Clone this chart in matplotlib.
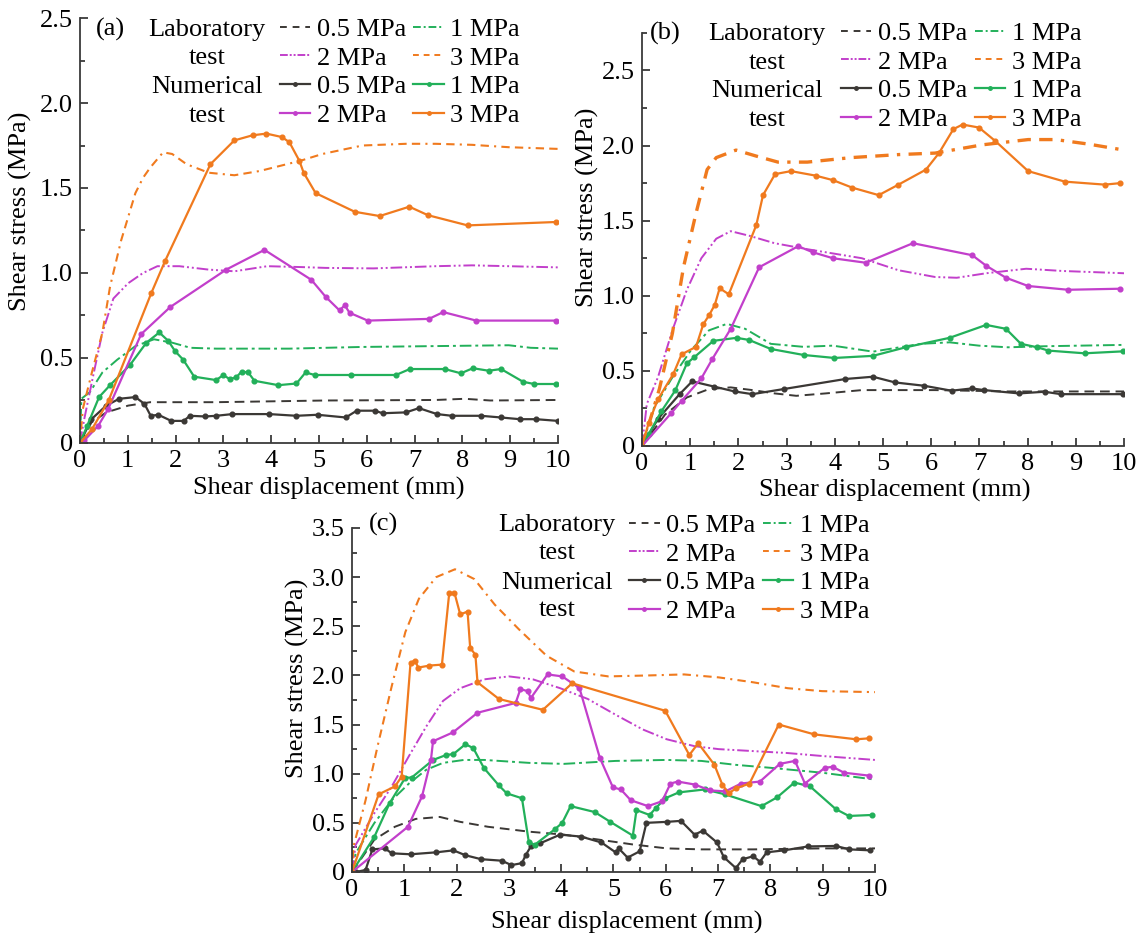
import numpy as np
import matplotlib.pyplot as plt
from matplotlib.ticker import MultipleLocator, FuncFormatter
from matplotlib.lines import Line2D

plt.rcParams['font.family'] = ['Liberation Serif', 'DejaVu Serif']
plt.rcParams['font.size'] = 19

BLACK = '#3b3835'
GREEN = '#22b05a'
MAGENTA = '#c23fcb'
ORANGE = '#f07a1e'

# ---------------- panel (a) ----------------
a_lab05_x = [0, 0.24, 0.55, 1.01, 1.47, 2.85, 5.14, 7.44, 8.05, 8.58, 10.0]
a_lab05_y = [0, 0.12, 0.18, 0.22, 0.24, 0.24, 0.25, 0.253, 0.26, 0.25, 0.253]
a_lab1_x = [0, 0.03, 0.21, 0.47, 0.78, 1.16, 1.55, 1.93, 2.31, 2.85, 4.38, 5.91, 7.44, 8.97, 9.43, 10.0]
a_lab1_y = [0, 0.26, 0.30, 0.415, 0.49, 0.57, 0.61, 0.59, 0.56, 0.555, 0.555, 0.565, 0.57, 0.575, 0.56, 0.555]
a_lab2_x = [0, 0.09, 0.28, 0.47, 0.70, 1.01, 1.32, 1.62, 2.08, 2.69, 3.23, 3.92, 4.61, 5.14, 6.14, 7.44, 8.20, 8.97, 10.0]
a_lab2_y = [0, 0.14, 0.40, 0.65, 0.85, 0.94, 1.00, 1.04, 1.04, 1.02, 1.01, 1.04, 1.035, 1.03, 1.027, 1.04, 1.045, 1.04, 1.033]
a_lab3_x = [0, 0.06, 0.25, 0.47, 0.63, 0.86, 1.16, 1.32, 1.47, 1.74, 1.93, 2.23, 2.69, 3.23, 3.76, 4.61, 5.07, 5.91, 6.82, 7.44, 8.20, 8.97, 10.0]
a_lab3_y = [0, 0.20, 0.415, 0.65, 0.92, 1.19, 1.47, 1.56, 1.62, 1.71, 1.70, 1.64, 1.59, 1.575, 1.60, 1.66, 1.70, 1.75, 1.76, 1.76, 1.754, 1.74, 1.73]

a_num05_x = [0, 0.24, 0.55, 0.82, 1.16, 1.35, 1.48, 1.64, 1.91, 2.17, 2.30, 2.62, 2.85, 3.19, 3.96, 4.53, 4.97, 5.56, 5.79, 6.17, 6.33, 6.82, 7.09, 7.47, 7.78, 8.39, 8.81, 9.20, 9.54, 10.0]
a_num05_y = [0, 0.14, 0.22, 0.26, 0.27, 0.23, 0.16, 0.166, 0.13, 0.13, 0.16, 0.156, 0.16, 0.17, 0.17, 0.16, 0.166, 0.15, 0.19, 0.19, 0.175, 0.18, 0.205, 0.17, 0.16, 0.16, 0.15, 0.14, 0.14, 0.13]
a_num1_x = [0, 0.15, 0.40, 0.63, 1.05, 1.39, 1.66, 1.85, 1.99, 2.16, 2.39, 2.85, 3.0, 3.13, 3.27, 3.38, 3.52, 3.65, 4.15, 4.53, 4.72, 4.91, 5.68, 6.61, 6.90, 7.63, 7.97, 8.22, 8.55, 8.81, 9.27, 9.50, 9.95]
a_num1_y = [0, 0.10, 0.27, 0.34, 0.46, 0.59, 0.65, 0.60, 0.54, 0.49, 0.39, 0.37, 0.40, 0.376, 0.386, 0.42, 0.415, 0.366, 0.34, 0.35, 0.415, 0.40, 0.40, 0.40, 0.435, 0.435, 0.41, 0.44, 0.425, 0.435, 0.36, 0.347, 0.347]
a_num2_x = [0, 0.09, 0.38, 0.59, 1.28, 1.89, 3.06, 3.86, 4.84, 5.14, 5.43, 5.54, 5.64, 6.02, 7.30, 7.60, 8.29, 9.96]
a_num2_y = [0, 0.015, 0.10, 0.20, 0.64, 0.80, 1.02, 1.136, 0.96, 0.86, 0.78, 0.81, 0.766, 0.72, 0.73, 0.77, 0.72, 0.72]
a_num3_x = [0, 0.25, 0.60, 1.49, 1.78, 2.73, 3.23, 3.61, 3.90, 4.22, 4.38, 4.59, 4.68, 4.93, 5.75, 6.27, 6.89, 7.28, 8.11, 9.96]
a_num3_y = [0, 0.08, 0.25, 0.88, 1.07, 1.64, 1.78, 1.81, 1.82, 1.80, 1.77, 1.66, 1.59, 1.47, 1.36, 1.335, 1.39, 1.34, 1.28, 1.30]

# ---------------- panel (b) ----------------
b_lab05_x = [0, 0.48, 0.93, 1.39, 1.84, 2.29, 2.75, 3.20, 3.81, 4.56, 5.32, 6.08, 7.59, 10.0]
b_lab05_y = [0, 0.21, 0.323, 0.379, 0.39, 0.372, 0.35, 0.334, 0.35, 0.372, 0.372, 0.372, 0.363, 0.363]
b_lab1_x = [0, 0.25, 0.63, 1.01, 1.39, 1.76, 2.14, 2.67, 3.35, 3.96, 4.79, 5.78, 6.38, 6.99, 7.59, 8.35, 10.0]
b_lab1_y = [0, 0.256, 0.457, 0.635, 0.77, 0.813, 0.78, 0.68, 0.66, 0.668, 0.628, 0.68, 0.69, 0.668, 0.657, 0.664, 0.673]
b_lab2_x = [0, 0.10, 0.33, 0.63, 0.93, 1.23, 1.54, 1.84, 2.22, 2.75, 3.43, 4.56, 5.32, 6.08, 6.53, 7.14, 7.97, 8.73, 10.0]
b_lab2_y = [0, 0.28, 0.457, 0.77, 1.04, 1.25, 1.38, 1.43, 1.40, 1.35, 1.31, 1.25, 1.17, 1.125, 1.12, 1.15, 1.18, 1.165, 1.15]
b_lab3_x = [0, 0.10, 0.36, 0.63, 0.86, 1.12, 1.35, 1.54, 1.95, 2.37, 2.82, 3.43, 4.34, 5.32, 6.08, 7.06, 8.01, 8.58, 9.26, 10.0]
b_lab3_y = [0, 0.10, 0.38, 0.75, 1.19, 1.55, 1.84, 1.92, 1.97, 1.93, 1.89, 1.89, 1.92, 1.94, 1.95, 2.005, 2.04, 2.04, 2.01, 1.97]

b_num05_x = [0, 0.33, 0.78, 1.04, 1.50, 1.92, 2.29, 2.94, 4.22, 4.79, 5.25, 5.85, 6.42, 6.84, 7.10, 7.82, 8.35, 8.69, 9.98]
b_num05_y = [0, 0.18, 0.345, 0.43, 0.395, 0.363, 0.345, 0.379, 0.446, 0.461, 0.423, 0.401, 0.368, 0.383, 0.372, 0.35, 0.361, 0.345, 0.345]
b_num1_x = [0, 0.14, 0.40, 0.69, 0.93, 1.08, 1.48, 1.96, 2.22, 2.67, 3.35, 3.99, 4.79, 5.47, 6.38, 7.14, 7.55, 7.86, 8.20, 8.43, 9.18, 9.98]
b_num1_y = [0, 0.08, 0.23, 0.37, 0.55, 0.59, 0.70, 0.72, 0.706, 0.646, 0.606, 0.586, 0.60, 0.657, 0.72, 0.806, 0.78, 0.68, 0.657, 0.635, 0.617, 0.63]
b_num2_x = [0, 0.61, 0.82, 1.23, 1.46, 1.84, 2.43, 3.24, 3.54, 3.96, 4.64, 5.62, 6.85, 7.14, 7.55, 8.01, 8.84, 9.92]
b_num2_y = [0, 0.22, 0.30, 0.45, 0.58, 0.78, 1.19, 1.33, 1.29, 1.25, 1.22, 1.35, 1.27, 1.20, 1.12, 1.065, 1.04, 1.047]
b_num3_x = [0, 0.14, 0.33, 0.65, 0.82, 1.12, 1.27, 1.39, 1.51, 1.61, 1.80, 2.37, 2.51, 2.76, 3.09, 3.60, 3.96, 4.36, 4.91, 5.32, 5.89, 6.16, 6.46, 6.65, 6.99, 7.33, 8.01, 8.77, 9.60, 9.92]
b_num3_y = [0, 0.156, 0.31, 0.48, 0.61, 0.66, 0.81, 0.87, 0.94, 1.05, 1.01, 1.47, 1.67, 1.81, 1.83, 1.80, 1.77, 1.72, 1.67, 1.74, 1.84, 1.95, 2.11, 2.14, 2.12, 2.03, 1.83, 1.76, 1.74, 1.75]

# ---------------- panel (c) ----------------
c_lab05_x = [0, 0.43, 0.82, 1.22, 1.68, 2.07, 2.60, 3.39, 4.05, 4.71, 5.37, 6.02, 6.68, 7.67, 8.99, 10.0]
c_lab05_y = [0, 0.33, 0.46, 0.54, 0.56, 0.51, 0.46, 0.41, 0.38, 0.33, 0.28, 0.24, 0.23, 0.23, 0.24, 0.24]
c_lab1_x = [0, 0.07, 0.43, 0.76, 1.09, 1.42, 1.74, 2.14, 2.53, 3.39, 4.05, 5.04, 6.02, 6.68, 7.34, 8.0, 8.99, 10.0]
c_lab1_y = [0, 0.19, 0.50, 0.73, 0.90, 1.04, 1.11, 1.14, 1.14, 1.11, 1.10, 1.13, 1.14, 1.13, 1.09, 1.06, 1.01, 0.94]
c_lab2_x = [0, 0.07, 0.43, 0.76, 1.09, 1.42, 1.74, 2.07, 2.53, 3.0, 3.46, 3.98, 4.51, 5.04, 5.56, 6.02, 6.55, 7.01, 7.67, 8.33, 8.99, 10.0]
c_lab2_y = [0, 0.275, 0.60, 0.87, 1.18, 1.48, 1.74, 1.87, 1.96, 1.99, 1.96, 1.87, 1.76, 1.60, 1.45, 1.35, 1.28, 1.25, 1.23, 1.21, 1.18, 1.14]
c_lab3_x = [0, 0.03, 0.26, 0.49, 0.76, 1.02, 1.28, 1.61, 1.97, 2.34, 2.73, 3.19, 3.72, 4.25, 4.90, 5.69, 6.35, 7.01, 7.67, 8.33, 8.99, 10.0]
c_lab3_y = [0, 0.26, 0.73, 1.28, 1.89, 2.44, 2.78, 3.00, 3.08, 2.98, 2.72, 2.47, 2.20, 2.04, 1.99, 2.00, 2.01, 1.98, 1.93, 1.87, 1.84, 1.83]

c_num05_x = [0, 0.07, 0.26, 0.39, 0.63, 0.76, 1.12, 1.61, 1.94, 2.17, 2.47, 2.86, 3.05, 3.25, 3.32, 3.42, 3.59, 3.98, 4.38, 4.77, 5.04, 5.10, 5.27, 5.50, 5.63, 6.02, 6.29, 6.55, 6.71, 6.98, 7.11, 7.34, 7.47, 7.67, 7.80, 7.93, 8.26, 8.72, 9.25, 9.51, 9.91]
c_num05_y = [0, 0.0, 0.02, 0.23, 0.24, 0.19, 0.18, 0.20, 0.22, 0.17, 0.13, 0.115, 0.07, 0.09, 0.17, 0.26, 0.29, 0.38, 0.36, 0.30, 0.20, 0.24, 0.146, 0.21, 0.50, 0.51, 0.52, 0.38, 0.42, 0.30, 0.15, 0.04, 0.13, 0.16, 0.105, 0.20, 0.22, 0.26, 0.265, 0.23, 0.22]
c_num1_x = [0, 0.43, 0.72, 1.02, 1.14, 1.55, 1.80, 1.94, 2.17, 2.32, 2.52, 2.81, 2.96, 3.25, 3.38, 3.49, 3.88, 4.02, 4.18, 4.64, 4.94, 5.37, 5.44, 5.69, 5.81, 5.99, 6.25, 6.75, 7.13, 7.83, 8.13, 8.46, 8.76, 9.25, 9.50, 9.94]
c_num1_y = [0, 0.36, 0.70, 0.96, 0.96, 1.14, 1.19, 1.20, 1.30, 1.26, 1.06, 0.88, 0.80, 0.75, 0.31, 0.275, 0.435, 0.50, 0.67, 0.61, 0.51, 0.37, 0.63, 0.58, 0.65, 0.75, 0.81, 0.84, 0.79, 0.67, 0.76, 0.91, 0.87, 0.64, 0.57, 0.58]
c_num2_x = [0, 1.07, 1.34, 1.51, 1.55, 1.93, 2.40, 3.13, 3.22, 3.36, 3.42, 3.74, 4.02, 4.35, 4.74, 4.99, 5.14, 5.33, 5.66, 5.93, 6.09, 6.23, 6.55, 6.85, 7.14, 7.44, 7.80, 8.18, 8.47, 8.66, 9.04, 9.19, 9.41, 9.89]
c_num2_y = [0, 0.46, 0.77, 1.14, 1.33, 1.42, 1.62, 1.72, 1.86, 1.84, 1.77, 2.01, 1.99, 1.87, 1.16, 0.86, 0.84, 0.73, 0.67, 0.72, 0.90, 0.92, 0.89, 0.83, 0.82, 0.90, 0.92, 1.10, 1.13, 0.90, 1.06, 1.07, 1.01, 0.98]
c_num3_x = [0, 0.51, 0.82, 0.95, 1.12, 1.20, 1.27, 1.48, 1.72, 1.86, 1.96, 2.07, 2.21, 2.26, 2.36, 2.40, 2.81, 3.65, 4.21, 5.99, 6.45, 6.62, 6.93, 7.08, 7.20, 7.34, 7.60, 8.16, 8.84, 9.64, 9.89]
c_num3_y = [0, 0.79, 0.87, 0.97, 2.13, 2.15, 2.08, 2.10, 2.11, 2.84, 2.84, 2.62, 2.65, 2.28, 2.21, 1.93, 1.76, 1.65, 1.92, 1.64, 1.19, 1.31, 1.09, 0.89, 0.80, 0.85, 0.90, 1.50, 1.40, 1.35, 1.36]

legend_labels = ['0.5 MPa', '2 MPa', '0.5 MPa', '2 MPa', '1 MPa', '3 MPa', '1 MPa', '3 MPa']

lab_styles = {
    '05': dict(color=BLACK, dashes=(5, 3)),
    '1': dict(color=GREEN, dashes=(6, 2, 1.5, 2)),
    '2': dict(color=MAGENTA, dashes=(6, 1.5, 1, 1.5, 1, 1.5)),
    '3': dict(color=ORANGE, dashes=(4, 2.5, 4, 2.5, 1, 2.5)),
}
num_colors = {'05': BLACK, '1': GREEN, '2': MAGENTA, '3': ORANGE}


def fmt(v, pos):
    return '0' if abs(v) < 1e-9 else '%.1f' % v


def setup(ax, ymax):
    ax.set_xlim(0, 10)
    ax.set_ylim(0, ymax)
    for s in ['top', 'right']:
        ax.spines[s].set_visible(False)
    for s in ['left', 'bottom']:
        ax.spines[s].set_color('#3a3a3a')
        ax.spines[s].set_linewidth(1.3)
    ax.xaxis.set_major_locator(MultipleLocator(1))
    ax.xaxis.set_minor_locator(MultipleLocator(0.5))
    ax.yaxis.set_major_locator(MultipleLocator(0.5))
    ax.yaxis.set_minor_locator(MultipleLocator(0.25))
    ax.yaxis.set_major_formatter(FuncFormatter(fmt))
    ax.tick_params(which='major', direction='in', length=6, width=1.3, color='#3a3a3a', labelsize=19, pad=5)
    ax.tick_params(which='minor', direction='in', length=3.5, width=1.3, color='#3a3a3a')
    ax.set_xlabel('Shear displacement (mm)', fontsize=19)
    ax.set_ylabel('Shear stress (MPa)', fontsize=19)


def draw(ax, data, lab3_lw=1.5):
    for key in ['05', '1', '2', '3']:
        x, y = data['lab' + key]
        st = lab_styles[key]
        lw = lab3_lw if key == '3' else 1.4
        ax.plot(x, y, color=st['color'], dashes=st['dashes'], lw=lw)
    for key in ['05', '1', '2', '3']:
        x, y = data['num' + key]
        ax.plot(x, y, color=num_colors[key], lw=1.6, marker='o', ms=3.4, mec=num_colors[key])


def legend(ax, x0, y0, xhead, rows, letter, xletter):
    handles = [
        Line2D([], [], color=BLACK, dashes=(3.5, 3), lw=1.4),
        Line2D([], [], color=MAGENTA, dashes=(4, 1, 1, 1, 1, 1), lw=1.4),
        Line2D([], [], color=BLACK, lw=1.6, marker='o', ms=2.5),
        Line2D([], [], color=MAGENTA, lw=1.6, marker='o', ms=2.5),
        Line2D([], [], color=GREEN, dashes=(4, 1.5, 1, 1.5), lw=1.4),
        Line2D([], [], color=ORANGE, dashes=(3, 2.5), lw=1.4),
        Line2D([], [], color=GREEN, lw=1.6, marker='o', ms=2.5),
        Line2D([], [], color=ORANGE, lw=1.6, marker='o', ms=2.5),
    ]
    ax.legend(handles, legend_labels, ncol=2, loc='upper left', bbox_to_anchor=(x0, y0),
              frameon=False, fontsize=19, handlelength=1.15, handletextpad=0.25,
              columnspacing=0.28, labelspacing=0.2, borderpad=0, borderaxespad=0)
    for txt, yy in zip(['Laboratory', 'test', 'Numerical', 'test'], rows):
        ax.text(xhead, yy, txt, transform=ax.transAxes, ha='center', va='baseline', fontsize=19)
    ax.text(xletter, rows[0], letter, transform=ax.transAxes, ha='center', va='baseline', fontsize=19)


fig = plt.figure(figsize=(11.42, 9.33), dpi=100)

# (a)
ax1 = fig.add_axes([0.0700, 0.5252, 0.4186, 0.4555])
setup(ax1, 2.5)
draw(ax1, {'lab05': (a_lab05_x, a_lab05_y), 'lab1': (a_lab1_x, a_lab1_y),
           'lab2': (a_lab2_x, a_lab2_y), 'lab3': (a_lab3_x, a_lab3_y),
           'num05': (a_num05_x, a_num05_y), 'num1': (a_num1_x, a_num1_y),
           'num2': (a_num2_x, a_num2_y), 'num3': (a_num3_x, a_num3_y)})
legend(ax1, 0.418, 1.0015, 0.266, [0.9584, 0.8925, 0.8242, 0.7560], '(a)', 0.063)
ax1.yaxis.set_label_coords(-0.10, 0.546)
ax1.xaxis.set_label_coords(0.52, -0.079)

# (b)
ax2 = fig.add_axes([0.5622, 0.522, 0.4221, 0.4427])
setup(ax2, 2.75)
draw(ax2, {'lab05': (b_lab05_x, b_lab05_y), 'lab1': (b_lab1_x, b_lab1_y),
           'lab2': (b_lab2_x, b_lab2_y), 'lab3': (b_lab3_x, b_lab3_y),
           'num05': (b_num05_x, b_num05_y), 'num1': (b_num1_x, b_num1_y),
           'num2': (b_num2_x, b_num2_y), 'num3': (b_num3_x, b_num3_y)}, lab3_lw=2.4)
legend(ax2, 0.413, 1.0282, 0.259, [0.9838, 0.9136, 0.8458, 0.7755], '(b)', 0.048)
ax2.yaxis.set_label_coords(-0.09, 0.579)
ax2.xaxis.set_label_coords(0.525, -0.080)

# (c)
ax3 = fig.add_axes([0.3082, 0.0654, 0.458, 0.3687])
setup(ax3, 3.5)
draw(ax3, {'lab05': (c_lab05_x, c_lab05_y), 'lab1': (c_lab1_x, c_lab1_y),
           'lab2': (c_lab2_x, c_lab2_y), 'lab3': (c_lab3_x, c_lab3_y),
           'num05': (c_num05_x, c_num05_y), 'num1': (c_num1_x, c_num1_y),
           'num2': (c_num2_x, c_num2_y), 'num3': (c_num3_x, c_num3_y)})
legend(ax3, 0.53, 1.0424, 0.392, [0.9922, 0.9108, 0.8235, 0.7450], '(c)', 0.061)
ax3.yaxis.set_label_coords(-0.082, 0.564)
ax3.xaxis.set_label_coords(0.525, -0.113)

fig.savefig('out.png', dpi=100)
